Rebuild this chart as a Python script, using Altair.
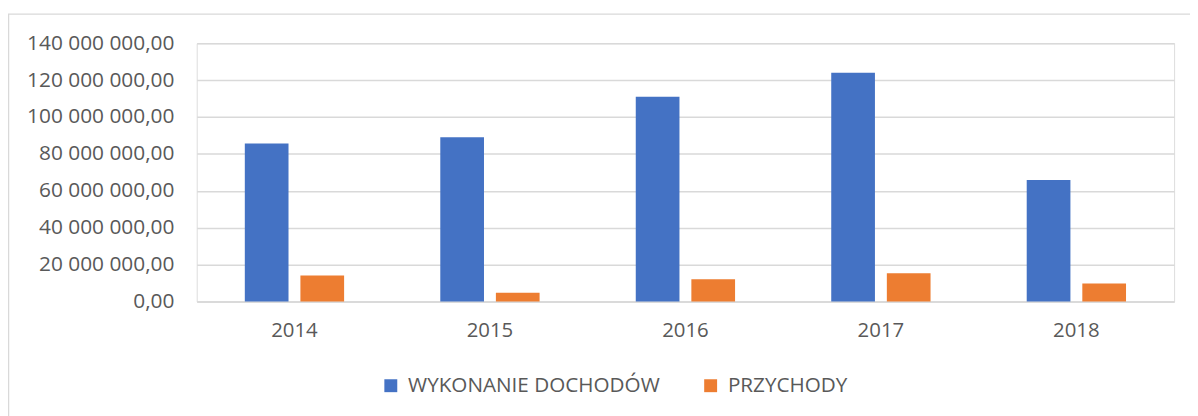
import altair as alt
import pandas as pd

years = ["2014", "2015", "2016", "2017", "2018"]
wykonanie = [85.7e6, 89.0e6, 111.0e6, 124.0e6, 65.8e6]
przychody = [14.1e6, 4.7e6, 12.0e6, 15.3e6, 9.8e6]
series = ["WYKONANIE DOCHODÓW", "PRZYCHODY"]
colors = ["#4472C4", "#ED7D31"]
y_ticks = [0, 20e6, 40e6, 60e6, 80e6, 100e6, 120e6, 140e6]

rows = []
for i, yr in enumerate(years):
    rows.append({"rok": yr, "seria": series[0], "wartosc": wykonanie[i]})
    rows.append({"rok": yr, "seria": series[1], "wartosc": przychody[i]})
df = pd.DataFrame(rows)

FONT = "Open Sans"
TXT = "#595959"

bars = alt.Chart(df).mark_bar().encode(
    x=alt.X("rok:N", title=None, sort=years,
            scale=alt.Scale(paddingInner=0.492, paddingOuter=0.246),
            axis=alt.Axis(labelAngle=0, ticks=False, tickSize=0, domain=True,
                          domainColor="#d9d9d9", domainWidth=1.5,
                          labelPadding=19, labelFontSize=20.5, labelColor=TXT,
                          labelFont=FONT)),
    xOffset=alt.XOffset("seria:N", sort=series,
                        scale=alt.Scale(paddingInner=0.214, paddingOuter=0)),
    y=alt.Y("wartosc:Q", title=None,
            scale=alt.Scale(domain=[0, 140e6], nice=False),
            axis=alt.Axis(values=y_ticks, domain=False, ticks=False, tickSize=0,
                          grid=True, gridColor="#d9d9d9", gridWidth=1.5,
                          labelPadding=23, labelFontSize=21, labelColor=TXT,
                          labelFont=FONT,
                          labelExpr="replace(replace(format(datum.value, ',.2f'), regexp(',', 'g'), ' '), '.', ',')")),
    color=alt.Color("seria:N", sort=series, title=None,
                    scale=alt.Scale(domain=series, range=colors),
                    legend=alt.Legend(orient="none", direction="horizontal",
                                      legendX=185, legendY=334,
                                      symbolType="square", symbolSize=169,
                                      symbolStrokeWidth=0, labelOffset=7,
                                      columnPadding=40, padding=0,
                                      labelFontSize=20.8, labelColor=TXT,
                                      labelFont=FONT, labelLimit=500)),
)

frame = alt.Chart(pd.DataFrame({"f": [0]})).mark_rect(
    fill=None, stroke="#d9d9d9", strokeWidth=1.5
).encode(
    x=alt.value(-189.5), x2=alt.value(1100),
    y=alt.value(-29.3), y2=alt.value(500),
)

chart = alt.layer(frame, bars).properties(
    width=984, height=260,
    autosize=alt.AutoSizeParams(type="none"),
    padding={"left": 190, "top": 34, "right": 16, "bottom": 140},
).configure_view(stroke=None).configure(font=FONT)

chart.save("out.html", embed_options={"renderer": "svg", "actions": False})
